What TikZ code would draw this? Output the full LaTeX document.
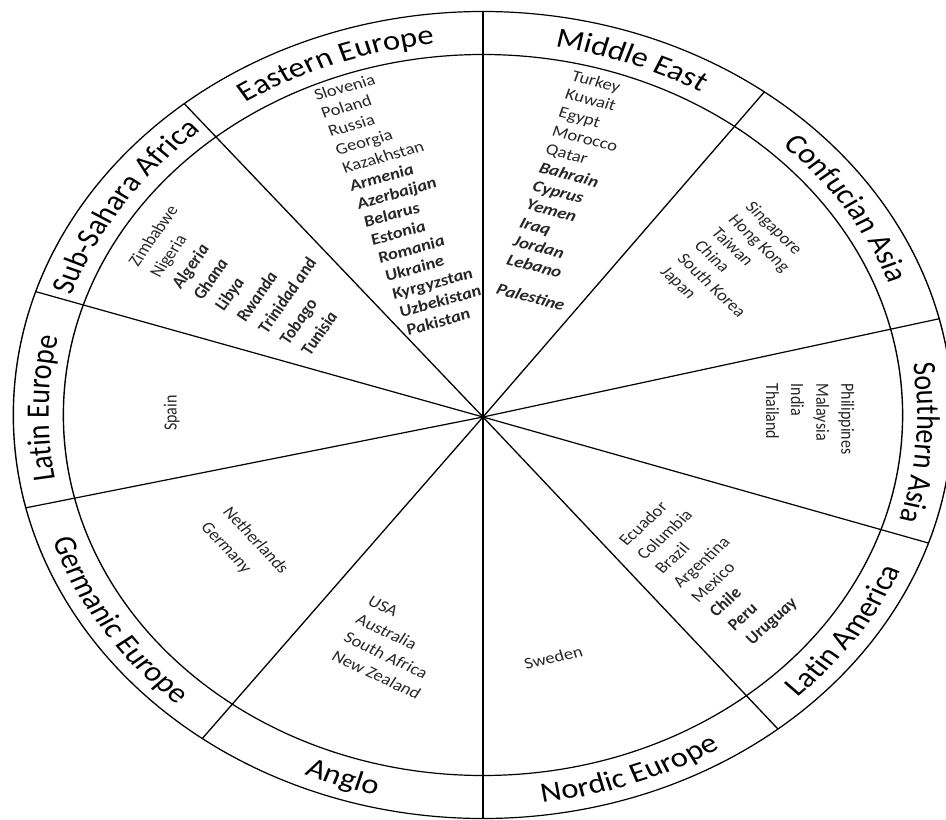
\documentclass[tikz,border=0pt]{standalone}
\usepackage{fontspec}
\setmainfont{Carlito}
\usetikzlibrary{decorations.text,calc}
\newcommand\ringfont{\fontsize{28}{30}\selectfont}
\newcommand\ctryfont{\fontsize{16}{18}\selectfont}
\newcommand\bi[1]{\textbf{\textit{#1}}}
\newcommand\toplabel[2]{\path[decorate,decoration={text along path,text={|\ringfont|#2},text align=center}]
  ($(C)+({#1+60}:373)$) arc[start angle={#1+60},end angle={#1-60},radius=373];}
\newcommand\botlabel[2]{\path[decorate,decoration={text along path,text={|\ringfont|#2},text align=center}]
  ($(C)+({#1-60}:391)$) arc[start angle={#1-60},end angle={#1+60},radius=391];}
\begin{document}
\begin{tikzpicture}[x=1pt,y=1pt,line width=1.2pt,
  ctry/.style={font=\ctryfont,text=black!85,inner sep=0pt,anchor=base west}]
\useasboundingbox (-483,-403) rectangle (463,417);
\clip (-483,-403) rectangle (463,417);
\begin{scope}[transform canvas={xscale=1.164}]
\coordinate (O) at (0,0);
\coordinate (C) at (0,2);
\draw (C) circle[radius=403.5];
\draw (C) circle[radius=360.5];
\foreach \a [count=\i] in {90,129.5,162.2,193.3,233.3,270,308.9,341.5,13.8,53.2}{
  \coordinate (s\i) at ($(C)+(\a:403.5)$);
  \draw (O) -- (s\i);
}
% ring labels
\toplabel{179}{Latin Europe}
\toplabel{145.85}{Sub-Sahara Africa}
\toplabel{109.75}{Eastern Europe}
\toplabel{70.2}{Middle East}
\toplabel{33.5}{Confucian Asia}
\toplabel{355.8}{Southern Asia}
\botlabel{213.3}{Germanic Europe}
\botlabel{251.65}{Anglo}
\botlabel{289.45}{Nordic Europe}
\botlabel{325.2}{Latin America}
% Eastern Europe
\foreach \k/\t [count=\n] in {0/Slovenia,1/Poland,2/Russia,3/Georgia,4/Kazakhstan,
  5/\bi{Armenia},6/\bi{Azerbaijan},7/\bi{Belarus},8/\bi{Estonia},9/\bi{Romania},
  10/\bi{Ukraine},11/\bi{Kyrgyzstan},12/\bi{Uzbekistan},13/\bi{Pakistan}}
  \node[ctry,rotate=18] (ee\n) at ($(-143.6,316)+\k*(6.09,-18.08)$) {\t};
% Middle East
\foreach \k/\t [count=\n] in {0/Turkey,1/Kuwait,2/Egypt,3/Morocco,4/Qatar,
  5/\bi{Bahrain},6/\bi{Cyprus},7/\bi{Yemen},8/\bi{Iraq},9/\bi{Jordan},
  10/\bi{Lebano},11.6/\bi{Palestine}}
  \node[ctry,rotate=-17] (me\n) at ($(74.8,337)+\k*(-5.59,-18.4)$) {\t};
% Sub-Sahara Africa
\foreach \k/\t [count=\n] in {0/Zimbabwe,1/Nigeria,2/\bi{Algeria},3/\bi{Ghana},
  4/\bi{Libya},5/\bi{Rwanda},6/\bi{Trinidad and},7/\bi{Tobago},8/\bi{Tunisia}}
  \node[ctry,rotate=59] (sa\n) at ($(-296.6,149)+\k*(18.5,-11.1)$) {\t};
% Latin Europe
\node[ctry,anchor=center,rotate=90] (le1) at (-267.4,4) {Spain};
% Germanic Europe
\foreach \k/\t [count=\n] in {0/Netherlands,1/Germany}
  \node[ctry,rotate=-51] (ge\n) at ($(-224.4,-95)+\k*(-18.9,-15)$) {\t};
% Anglo
\foreach \k/\t [count=\n] in {0/USA,1/Australia,2/South Africa,3/New Zealand}
  \node[ctry,rotate=-29] (an\n) at ($(-100.5,-187)+\k*(-10.3,-18.3)$) {\t};
% Nordic Europe
\node[ctry,anchor=center,rotate=15] (ne1) at (60.4,-240.3) {Sweden};
% Latin America
\foreach \k/\t [count=\n] in {0/Ecuador,1/Columbia,2/Brazil,3/Argentina,4/Mexico,
  5/\bi{Chile},6/\bi{Peru},7/\bi{Uruguay}}
  \node[ctry,rotate=47] (la\n) at ($(123,-130)+\k*(15.48,-14.14)$) {\t};
% Confucian Asia
\foreach \k/\t [count=\n] in {0/Singapore,1/Hong Kong,2/Taiwan,3/China,4/South Korea,5/Japan}
  \node[ctry,rotate=-48] (ca\n) at ($(224.4,210)+\k*(-14.6,-13)$) {\t};
% Southern Asia
\foreach \k/\t [count=\n] in {0/Philippines,1/Malaysia,2/India,3/Thailand}
  \node[ctry,rotate=-90] (sas\n) at ($(307.8,34)+\k*(-21.5,0)$) {\t};
\end{scope}
\end{tikzpicture}
\end{document}
